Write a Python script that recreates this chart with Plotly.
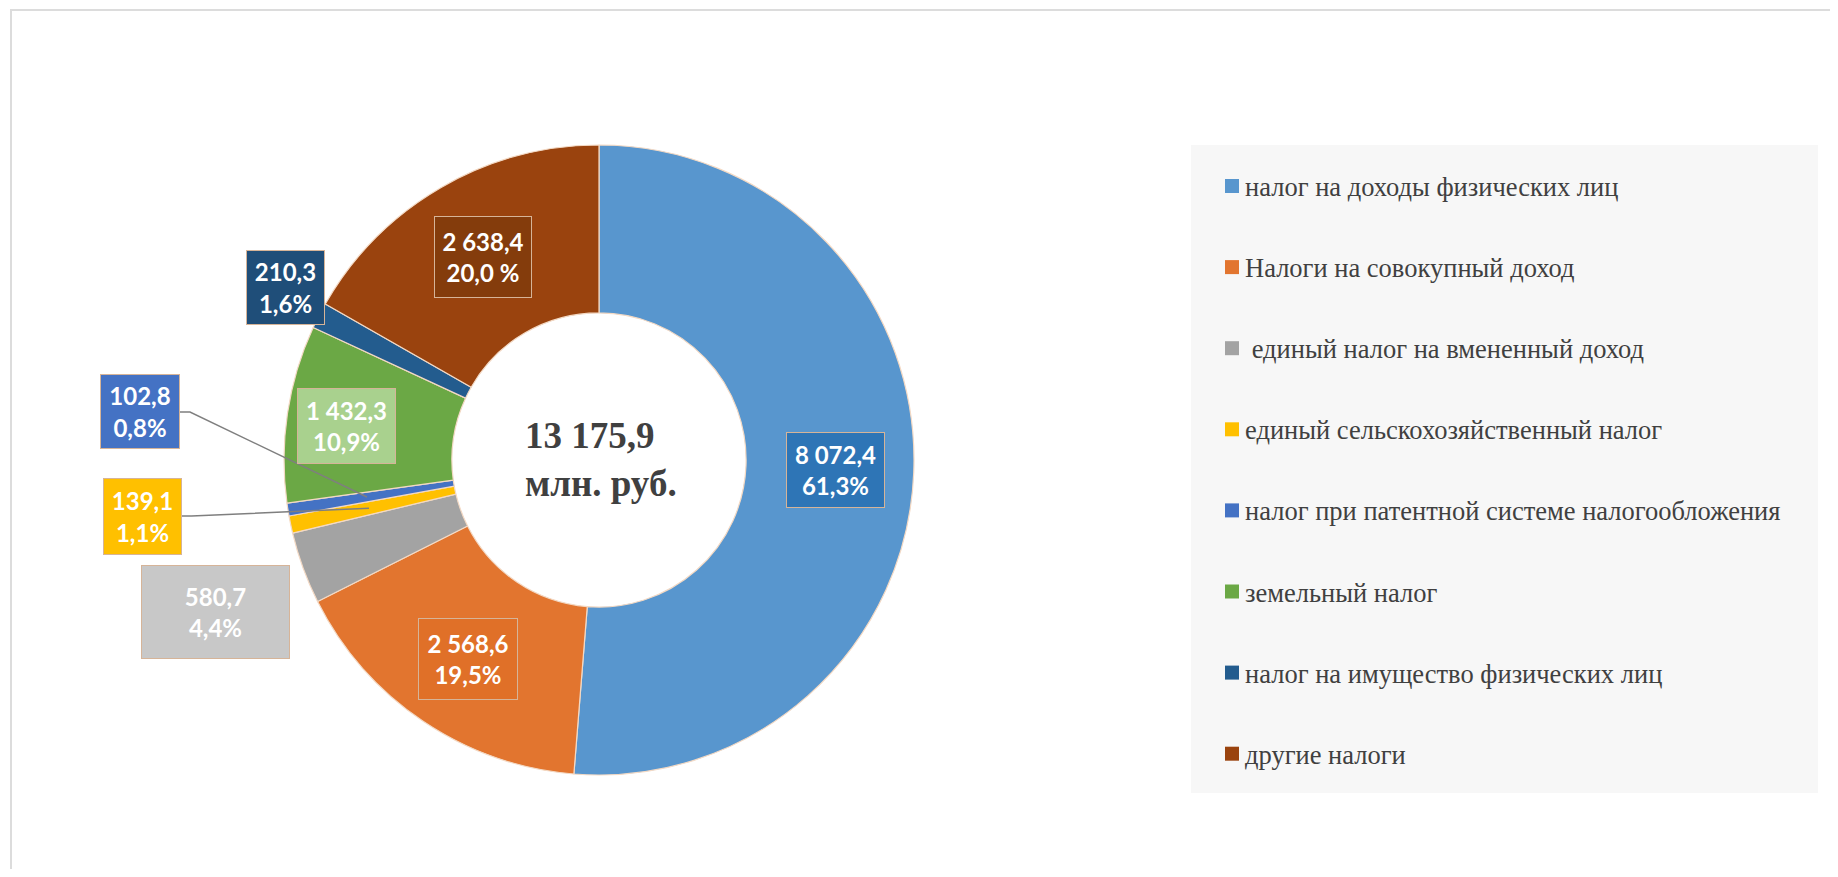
import math
import plotly.graph_objects as go

# data
labels = ["налог на доходы физических лиц", "Налоги на совокупный доход",
          " единый налог на вмененный доход", "единый сельскохозяйственный налог",
          "налог при патентной системе налогообложения", "земельный налог",
          "налог на имущество физических лиц", "другие налоги"]
values = [8072.4, 2568.6, 580.7, 139.1, 102.8, 1432.3, 210.3, 2638.4]
pct_text = ["61,3%", "19,5%", "4,4%", "1,1%", "0,8%", "10,9%", "1,6%", "20,0 %"]
total = 13175.9
total_unit = "млн. руб."

# styles
OFF = 8  # page body margin
W, H = 1838 - 2 * OFF, 877 - 2 * OFF
slice_colors = ["#5896CE", "#E2752F", "#A3A3A3", "#FFC000", "#4472C4", "#6BA845", "#235C8E", "#9A430E"]
box_colors = ["#2E75B6", "#E07028", "#C8C8C8", "#FFC000", "#4472C4", "#A9D18E", "#1F4E79", "#843C0C"]
# box centre (px in the screenshot), box size, leader line flag
box_pos = [(835, 470), (468, 659), (215, 612), (142, 516), (140, 412), (346, 426), (285, 287), (483, 257)]
box_size = [(95, 72), (96, 78), (145, 90), (75, 73), (76, 71), (95, 72), (75, 71), (94, 78)]
leader = [False, False, False, True, True, False, False, False]

cx, cy, R = 599, 460, 315


def px(x):
    return (x - OFF) / W


def py(y):
    return 1 - (y - OFF) / H


def fmt(v):
    return f"{v:,.1f}".replace(",", " ").replace(".", ",")


fig = go.Figure(go.Pie(
    labels=labels, values=values, sort=False, direction="clockwise", rotation=0,
    hole=0.467, textinfo="none", showlegend=False,
    marker=dict(colors=slice_colors, line=dict(color="#F3D9C4", width=1.2)),
    domain=dict(x=[px(cx - R), px(cx + R)], y=[py(cy + R), py(cy - R)]),
))

annotations = []
shapes = [
    dict(type="rect", xref="paper", yref="paper", x0=px(11), x1=1.05, y0=-0.05, y1=py(10),
         line=dict(color="#DCDCDC", width=2), fillcolor="rgba(0,0,0,0)", layer="below"),
    dict(type="rect", xref="paper", yref="paper", x0=px(1191), x1=px(1818), y0=py(793), y1=py(145),
         line=dict(width=0), fillcolor="#F7F7F7", layer="below"),
]

s = sum(values)
cum = 0
for i, v in enumerate(values):
    mid = (cum + v / 2) / s * 2 * math.pi
    cum += v
    bx, by = box_pos[i]
    bw, bh = box_size[i]
    if leader[i]:
        tx = cx + 235 * math.sin(mid)
        ty = cy - 235 * math.cos(mid)
        ex = bx + bw / 2
        shapes.append(dict(type="path", xref="paper", yref="paper",
                           path=f"M {px(ex)},{py(by)} L {px(ex + 12)},{py(by)} L {px(tx)},{py(ty)}",
                           line=dict(color="#7F7F7F", width=1.5)))
    annotations.append(dict(text=f"<b>{fmt(v)}<br>{pct_text[i]}</b>", x=px(bx), y=py(by),
                            xref="paper", yref="paper", xanchor="center", yanchor="middle",
                            showarrow=False, bgcolor=box_colors[i],
                            bordercolor="#D6B498", borderwidth=1, width=bw, height=bh,
                            font=dict(family="Lato", size=24, color="white")))

annotations.append(dict(text=f"<b>{fmt(total)}<br>{total_unit}</b>", x=px(601), y=py(459),
                        xref="paper", yref="paper", xanchor="center", yanchor="middle",
                        showarrow=False, align="left",
                        font=dict(family="Liberation Serif", size=37, color="#404040")))

for i, lab in enumerate(labels):
    yy = 186 + 81.1 * i
    shapes.append(dict(type="rect", xref="paper", yref="paper", x0=px(1225), x1=px(1239),
                       y0=py(yy + 7), y1=py(yy - 7),
                       line=dict(width=0), fillcolor=slice_colors[i]))
    annotations.append(dict(text=lab, x=px(1243), y=py(yy + 1), xref="paper", yref="paper",
                            xanchor="left", yanchor="middle", showarrow=False,
                            font=dict(family="Liberation Serif", size=26.5, color="#404040")))

fig.update_layout(width=W, height=H, margin=dict(l=0, r=0, t=0, b=0),
                  paper_bgcolor="white", plot_bgcolor="white",
                  annotations=annotations, shapes=shapes)
fig.write_html("out.html")
